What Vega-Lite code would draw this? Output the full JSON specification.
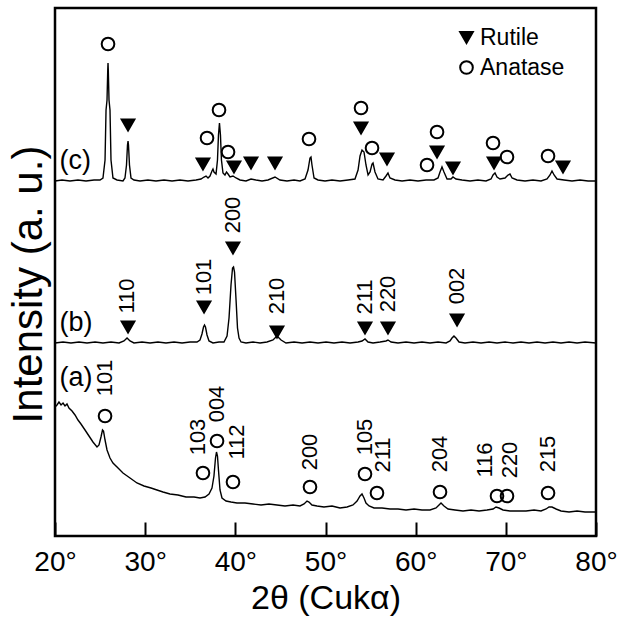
{
  "$schema": "https://vega.github.io/schema/vega-lite/v6.json",
  "width": 541,
  "height": 528,
  "autosize": {"type": "none"},
  "padding": {"left": 55, "top": 8, "right": 22, "bottom": 83},
  "background": "white",
  "config": {
    "view": {"stroke": "black", "strokeWidth": 2.5},
    "font": "Liberation Sans"
  },
  "datasets": {
    "curves": [
      {"sample":"c","t":20.00,"i":355},{"sample":"c","t":20.78,"i":356},{"sample":"c","t":21.66,"i":355},{"sample":"c","t":22.55,"i":356},{"sample":"c","t":23.44,"i":355},{"sample":"c","t":24.33,"i":356},{"sample":"c","t":24.99,"i":356},{"sample":"c","t":25.32,"i":358},{"sample":"c","t":25.55,"i":376},{"sample":"c","t":25.66,"i":426},{"sample":"c","t":25.77,"i":436},{"sample":"c","t":25.85,"i":466},{"sample":"c","t":25.88,"i":473},{"sample":"c","t":25.91,"i":466},{"sample":"c","t":25.99,"i":436},{"sample":"c","t":26.10,"i":426},{"sample":"c","t":26.21,"i":376},{"sample":"c","t":26.43,"i":358},{"sample":"c","t":26.88,"i":356},{"sample":"c","t":27.54,"i":355},{"sample":"c","t":27.76,"i":358},{"sample":"c","t":27.93,"i":371},{"sample":"c","t":28.04,"i":391},{"sample":"c","t":28.10,"i":395},{"sample":"c","t":28.15,"i":391},{"sample":"c","t":28.26,"i":371},{"sample":"c","t":28.43,"i":358},{"sample":"c","t":28.76,"i":356},{"sample":"c","t":29.43,"i":355},{"sample":"c","t":30.31,"i":356},{"sample":"c","t":31.20,"i":355},{"sample":"c","t":32.09,"i":356},{"sample":"c","t":32.98,"i":355},{"sample":"c","t":33.86,"i":356},{"sample":"c","t":34.75,"i":355},{"sample":"c","t":35.64,"i":356},{"sample":"c","t":36.19,"i":357},{"sample":"c","t":36.53,"i":359},{"sample":"c","t":36.75,"i":360},{"sample":"c","t":36.97,"i":358},{"sample":"c","t":37.19,"i":360},{"sample":"c","t":37.41,"i":365},{"sample":"c","t":37.52,"i":367},{"sample":"c","t":37.63,"i":364},{"sample":"c","t":37.86,"i":362},{"sample":"c","t":38.02,"i":376},{"sample":"c","t":38.13,"i":401},{"sample":"c","t":38.24,"i":413},{"sample":"c","t":38.35,"i":401},{"sample":"c","t":38.46,"i":376},{"sample":"c","t":38.63,"i":363},{"sample":"c","t":38.85,"i":361},{"sample":"c","t":39.02,"i":364},{"sample":"c","t":39.19,"i":362},{"sample":"c","t":39.41,"i":359},{"sample":"c","t":39.74,"i":360},{"sample":"c","t":40.08,"i":358},{"sample":"c","t":40.52,"i":356},{"sample":"c","t":41.18,"i":355},{"sample":"c","t":41.74,"i":357},{"sample":"c","t":42.29,"i":356},{"sample":"c","t":42.96,"i":355},{"sample":"c","t":43.62,"i":356},{"sample":"c","t":44.40,"i":359},{"sample":"c","t":44.95,"i":356},{"sample":"c","t":45.73,"i":355},{"sample":"c","t":46.51,"i":356},{"sample":"c","t":47.17,"i":355},{"sample":"c","t":47.73,"i":357},{"sample":"c","t":48.06,"i":366},{"sample":"c","t":48.28,"i":378},{"sample":"c","t":48.39,"i":379},{"sample":"c","t":48.50,"i":371},{"sample":"c","t":48.73,"i":358},{"sample":"c","t":49.17,"i":356},{"sample":"c","t":49.95,"i":355},{"sample":"c","t":50.72,"i":356},{"sample":"c","t":51.61,"i":355},{"sample":"c","t":52.50,"i":356},{"sample":"c","t":53.27,"i":357},{"sample":"c","t":53.61,"i":366},{"sample":"c","t":53.83,"i":380},{"sample":"c","t":54.05,"i":386},{"sample":"c","t":54.27,"i":384},{"sample":"c","t":54.49,"i":371},{"sample":"c","t":54.72,"i":361},{"sample":"c","t":54.94,"i":364},{"sample":"c","t":55.16,"i":372},{"sample":"c","t":55.27,"i":373},{"sample":"c","t":55.49,"i":364},{"sample":"c","t":55.82,"i":357},{"sample":"c","t":56.38,"i":356},{"sample":"c","t":56.71,"i":360},{"sample":"c","t":56.93,"i":363},{"sample":"c","t":57.15,"i":358},{"sample":"c","t":57.71,"i":356},{"sample":"c","t":58.49,"i":355},{"sample":"c","t":59.37,"i":356},{"sample":"c","t":60.26,"i":355},{"sample":"c","t":61.15,"i":356},{"sample":"c","t":62.03,"i":356},{"sample":"c","t":62.48,"i":358},{"sample":"c","t":62.70,"i":364},{"sample":"c","t":62.92,"i":369},{"sample":"c","t":63.14,"i":364},{"sample":"c","t":63.48,"i":357},{"sample":"c","t":63.92,"i":357},{"sample":"c","t":64.14,"i":359},{"sample":"c","t":64.47,"i":357},{"sample":"c","t":65.14,"i":356},{"sample":"c","t":66.03,"i":355},{"sample":"c","t":66.91,"i":356},{"sample":"c","t":67.80,"i":355},{"sample":"c","t":68.36,"i":357},{"sample":"c","t":68.58,"i":361},{"sample":"c","t":68.80,"i":363},{"sample":"c","t":69.02,"i":359},{"sample":"c","t":69.35,"i":357},{"sample":"c","t":69.91,"i":358},{"sample":"c","t":70.24,"i":361},{"sample":"c","t":70.46,"i":362},{"sample":"c","t":70.69,"i":358},{"sample":"c","t":71.24,"i":356},{"sample":"c","t":72.13,"i":355},{"sample":"c","t":73.01,"i":356},{"sample":"c","t":73.90,"i":355},{"sample":"c","t":74.57,"i":357},{"sample":"c","t":74.90,"i":361},{"sample":"c","t":75.12,"i":365},{"sample":"c","t":75.35,"i":361},{"sample":"c","t":75.68,"i":357},{"sample":"c","t":76.45,"i":356},{"sample":"c","t":77.34,"i":355},{"sample":"c","t":78.23,"i":356},{"sample":"c","t":79.12,"i":355},{"sample":"c","t":80.00,"i":355},
      {"sample":"b","t":20.00,"i":193},{"sample":"b","t":20.89,"i":194},{"sample":"b","t":21.77,"i":193},{"sample":"b","t":22.66,"i":194},{"sample":"b","t":23.55,"i":193},{"sample":"b","t":24.44,"i":194},{"sample":"b","t":25.32,"i":193},{"sample":"b","t":26.21,"i":194},{"sample":"b","t":27.10,"i":193},{"sample":"b","t":27.65,"i":195},{"sample":"b","t":27.99,"i":198},{"sample":"b","t":28.32,"i":195},{"sample":"b","t":28.76,"i":193},{"sample":"b","t":29.65,"i":194},{"sample":"b","t":30.54,"i":193},{"sample":"b","t":31.42,"i":194},{"sample":"b","t":32.31,"i":193},{"sample":"b","t":33.20,"i":194},{"sample":"b","t":34.09,"i":193},{"sample":"b","t":34.97,"i":194},{"sample":"b","t":35.75,"i":194},{"sample":"b","t":36.08,"i":196},{"sample":"b","t":36.30,"i":202},{"sample":"b","t":36.47,"i":209},{"sample":"b","t":36.58,"i":211},{"sample":"b","t":36.69,"i":209},{"sample":"b","t":36.86,"i":201},{"sample":"b","t":37.08,"i":195},{"sample":"b","t":37.52,"i":193},{"sample":"b","t":38.19,"i":194},{"sample":"b","t":38.74,"i":194},{"sample":"b","t":39.08,"i":200},{"sample":"b","t":39.30,"i":218},{"sample":"b","t":39.52,"i":251},{"sample":"b","t":39.69,"i":268},{"sample":"b","t":39.80,"i":269},{"sample":"b","t":39.91,"i":264},{"sample":"b","t":40.08,"i":236},{"sample":"b","t":40.24,"i":208},{"sample":"b","t":40.41,"i":198},{"sample":"b","t":40.63,"i":194},{"sample":"b","t":41.18,"i":193},{"sample":"b","t":41.96,"i":194},{"sample":"b","t":42.74,"i":193},{"sample":"b","t":43.51,"i":194},{"sample":"b","t":44.18,"i":196},{"sample":"b","t":44.62,"i":200},{"sample":"b","t":45.07,"i":196},{"sample":"b","t":45.62,"i":193},{"sample":"b","t":46.51,"i":194},{"sample":"b","t":47.40,"i":193},{"sample":"b","t":48.28,"i":194},{"sample":"b","t":49.17,"i":193},{"sample":"b","t":50.06,"i":194},{"sample":"b","t":50.94,"i":193},{"sample":"b","t":51.83,"i":194},{"sample":"b","t":52.72,"i":193},{"sample":"b","t":53.61,"i":194},{"sample":"b","t":54.05,"i":195},{"sample":"b","t":54.38,"i":197},{"sample":"b","t":54.72,"i":194},{"sample":"b","t":55.27,"i":193},{"sample":"b","t":56.05,"i":194},{"sample":"b","t":56.71,"i":195},{"sample":"b","t":56.93,"i":196},{"sample":"b","t":57.27,"i":194},{"sample":"b","t":58.04,"i":193},{"sample":"b","t":58.93,"i":194},{"sample":"b","t":59.82,"i":193},{"sample":"b","t":60.70,"i":194},{"sample":"b","t":61.59,"i":193},{"sample":"b","t":62.48,"i":194},{"sample":"b","t":63.37,"i":193},{"sample":"b","t":63.81,"i":195},{"sample":"b","t":64.03,"i":198},{"sample":"b","t":64.25,"i":200},{"sample":"b","t":64.47,"i":198},{"sample":"b","t":64.81,"i":194},{"sample":"b","t":65.47,"i":193},{"sample":"b","t":66.36,"i":194},{"sample":"b","t":67.25,"i":193},{"sample":"b","t":68.14,"i":194},{"sample":"b","t":69.02,"i":193},{"sample":"b","t":69.91,"i":194},{"sample":"b","t":70.80,"i":193},{"sample":"b","t":71.68,"i":194},{"sample":"b","t":72.57,"i":193},{"sample":"b","t":73.46,"i":194},{"sample":"b","t":74.35,"i":193},{"sample":"b","t":75.23,"i":194},{"sample":"b","t":76.12,"i":193},{"sample":"b","t":77.01,"i":194},{"sample":"b","t":77.90,"i":193},{"sample":"b","t":78.78,"i":194},{"sample":"b","t":80.00,"i":193},
      {"sample":"a","t":20.00,"i":129},{"sample":"a","t":20.22,"i":131},{"sample":"a","t":20.44,"i":134},{"sample":"a","t":20.67,"i":131},{"sample":"a","t":20.89,"i":133},{"sample":"a","t":21.11,"i":130},{"sample":"a","t":21.33,"i":132},{"sample":"a","t":21.55,"i":128},{"sample":"a","t":21.89,"i":125},{"sample":"a","t":22.22,"i":121},{"sample":"a","t":22.55,"i":116},{"sample":"a","t":22.88,"i":112},{"sample":"a","t":23.33,"i":106},{"sample":"a","t":23.77,"i":100},{"sample":"a","t":24.21,"i":94},{"sample":"a","t":24.66,"i":89},{"sample":"a","t":24.88,"i":91},{"sample":"a","t":25.10,"i":99},{"sample":"a","t":25.27,"i":106},{"sample":"a","t":25.38,"i":105},{"sample":"a","t":25.55,"i":96},{"sample":"a","t":25.77,"i":86},{"sample":"a","t":26.10,"i":78},{"sample":"a","t":26.43,"i":73},{"sample":"a","t":26.99,"i":68},{"sample":"a","t":27.54,"i":63},{"sample":"a","t":28.32,"i":58},{"sample":"a","t":29.09,"i":53},{"sample":"a","t":29.87,"i":50},{"sample":"a","t":30.65,"i":48},{"sample":"a","t":31.31,"i":46},{"sample":"a","t":31.98,"i":44},{"sample":"a","t":32.75,"i":42},{"sample":"a","t":33.64,"i":41},{"sample":"a","t":34.53,"i":39},{"sample":"a","t":35.42,"i":39},{"sample":"a","t":36.08,"i":38},{"sample":"a","t":36.64,"i":39},{"sample":"a","t":37.08,"i":42},{"sample":"a","t":37.41,"i":48},{"sample":"a","t":37.63,"i":60},{"sample":"a","t":37.80,"i":78},{"sample":"a","t":37.91,"i":84},{"sample":"a","t":38.02,"i":80},{"sample":"a","t":38.13,"i":66},{"sample":"a","t":38.30,"i":46},{"sample":"a","t":38.52,"i":38},{"sample":"a","t":38.97,"i":35},{"sample":"a","t":39.52,"i":34},{"sample":"a","t":40.18,"i":33},{"sample":"a","t":41.07,"i":33},{"sample":"a","t":41.96,"i":32},{"sample":"a","t":42.85,"i":31},{"sample":"a","t":43.73,"i":32},{"sample":"a","t":44.62,"i":31},{"sample":"a","t":45.51,"i":30},{"sample":"a","t":46.40,"i":31},{"sample":"a","t":47.17,"i":30},{"sample":"a","t":47.62,"i":32},{"sample":"a","t":47.95,"i":35},{"sample":"a","t":48.17,"i":34},{"sample":"a","t":48.50,"i":31},{"sample":"a","t":49.06,"i":30},{"sample":"a","t":49.83,"i":29},{"sample":"a","t":50.72,"i":30},{"sample":"a","t":51.61,"i":28},{"sample":"a","t":52.39,"i":29},{"sample":"a","t":53.05,"i":31},{"sample":"a","t":53.50,"i":35},{"sample":"a","t":53.83,"i":40},{"sample":"a","t":54.05,"i":42},{"sample":"a","t":54.27,"i":38},{"sample":"a","t":54.49,"i":33},{"sample":"a","t":54.83,"i":30},{"sample":"a","t":55.38,"i":28},{"sample":"a","t":56.27,"i":28},{"sample":"a","t":57.15,"i":27},{"sample":"a","t":58.04,"i":27},{"sample":"a","t":58.93,"i":26},{"sample":"a","t":59.82,"i":27},{"sample":"a","t":60.70,"i":26},{"sample":"a","t":61.59,"i":26},{"sample":"a","t":62.26,"i":28},{"sample":"a","t":62.59,"i":31},{"sample":"a","t":62.81,"i":33},{"sample":"a","t":63.14,"i":30},{"sample":"a","t":63.59,"i":27},{"sample":"a","t":64.36,"i":26},{"sample":"a","t":65.25,"i":25},{"sample":"a","t":66.14,"i":26},{"sample":"a","t":67.03,"i":25},{"sample":"a","t":67.91,"i":26},{"sample":"a","t":68.58,"i":27},{"sample":"a","t":68.91,"i":29},{"sample":"a","t":69.24,"i":28},{"sample":"a","t":69.69,"i":26},{"sample":"a","t":70.46,"i":25},{"sample":"a","t":71.35,"i":25},{"sample":"a","t":72.24,"i":25},{"sample":"a","t":73.13,"i":26},{"sample":"a","t":73.90,"i":25},{"sample":"a","t":74.46,"i":27},{"sample":"a","t":74.79,"i":29},{"sample":"a","t":75.12,"i":29},{"sample":"a","t":75.57,"i":27},{"sample":"a","t":76.12,"i":25},{"sample":"a","t":77.01,"i":24},{"sample":"a","t":77.90,"i":25},{"sample":"a","t":78.78,"i":24},{"sample":"a","t":80.00,"i":24}
    ],
    "markers": [
      {"phase":"Anatase","t":25.88,"i":492},{"phase":"Rutile","t":28.10,"i":411},{"phase":"Anatase","t":36.86,"i":398},{"phase":"Rutile","t":36.41,"i":372},{"phase":"Anatase","t":38.19,"i":426},{"phase":"Anatase","t":39.19,"i":384},{"phase":"Rutile","t":39.85,"i":369},{"phase":"Rutile","t":41.74,"i":373},{"phase":"Rutile","t":44.40,"i":373},{"phase":"Anatase","t":48.17,"i":397},{"phase":"Anatase","t":53.94,"i":428},{"phase":"Rutile","t":53.94,"i":408},{"phase":"Anatase","t":55.16,"i":388},{"phase":"Rutile","t":56.82,"i":377},{"phase":"Anatase","t":62.37,"i":404},{"phase":"Anatase","t":61.26,"i":371},{"phase":"Rutile","t":62.37,"i":384},{"phase":"Rutile","t":64.14,"i":368},{"phase":"Anatase","t":68.58,"i":393},{"phase":"Rutile","t":68.69,"i":373},{"phase":"Anatase","t":70.13,"i":379},{"phase":"Anatase","t":74.68,"i":380},{"phase":"Rutile","t":76.34,"i":369},
      {"phase":"Rutile","t":28.10,"i":209},{"phase":"Rutile","t":36.53,"i":229},{"phase":"Rutile","t":39.74,"i":288},{"phase":"Rutile","t":44.62,"i":204},{"phase":"Rutile","t":54.38,"i":208},{"phase":"Rutile","t":56.93,"i":208},{"phase":"Rutile","t":64.59,"i":216},
      {"phase":"Anatase","t":25.55,"i":120},{"phase":"Anatase","t":36.41,"i":63},{"phase":"Anatase","t":37.97,"i":95},{"phase":"Anatase","t":39.74,"i":54},{"phase":"Anatase","t":48.28,"i":49},{"phase":"Anatase","t":54.38,"i":62},{"phase":"Anatase","t":55.71,"i":43},{"phase":"Anatase","t":62.70,"i":44},{"phase":"Anatase","t":69.02,"i":40},{"phase":"Anatase","t":70.13,"i":40},{"phase":"Anatase","t":74.68,"i":43}
    ],
    "hkl": [
      {"label":"110","t":27.99,"i":240},{"label":"101","t":36.53,"i":259},{"label":"200","t":39.74,"i":321},{"label":"210","t":44.62,"i":240},{"label":"211","t":54.38,"i":239},{"label":"220","t":56.93,"i":242},{"label":"002","t":64.59,"i":250},
      {"label":"101","t":25.55,"i":158},{"label":"103","t":35.86,"i":99},{"label":"004","t":37.97,"i":132},{"label":"112","t":40.19,"i":94},{"label":"200","t":48.28,"i":84},{"label":"105","t":54.38,"i":99},{"label":"211","t":56.38,"i":81},{"label":"204","t":62.70,"i":82},{"label":"116","t":67.69,"i":76},{"label":"220","t":70.46,"i":76},{"label":"215","t":74.68,"i":82}
    ],
    "samples": [
      {"label":"(c)","t":20.5,"i":375},{"label":"(b)","t":20.5,"i":213},{"label":"(a)","t":20.5,"i":158}
    ]
  },
  "encoding": {
    "x": {
      "field": "t", "type": "quantitative",
      "scale": {"domain": [20, 80], "nice": false, "zero": false},
      "axis": {
        "values": [20, 30, 40, 50, 60, 70, 80],
        "labelExpr": "datum.value + '°'",
        "labelFontSize": 28, "labelColor": "black", "labelPadding": 26,
        "labelAlign": "center", "labelDx": 5,
        "labelFlush": false, "labelOverlap": false,
        "tickSize": -14, "tickWidth": 2, "tickColor": "black",
        "domain": false, "grid": false,
        "title": "2θ (Cukα)", "titleFontSize": 34, "titleFontWeight": "normal",
        "titleColor": "black", "titlePadding": 5
      }
    },
    "y": {
      "field": "i", "type": "quantitative",
      "scale": {"domain": [0, 528], "nice": false, "zero": false},
      "axis": {
        "ticks": false, "labels": false, "domain": false, "grid": false,
        "title": "Intensity (a. u.)", "titleFontSize": 42, "titleFontWeight": "normal",
        "titleColor": "black", "titlePadding": 5, "titleY": 276
      }
    }
  },
  "layer": [
    {
      "data": {"name": "curves"},
      "mark": {"type": "line", "color": "black", "strokeWidth": 1.4},
      "encoding": {"detail": {"field": "sample", "type": "nominal"}}
    },
    {
      "data": {"name": "markers"},
      "mark": {"type": "point", "strokeWidth": 2, "opacity": 1, "size": 160},
      "encoding": {
        "shape": {
          "field": "phase", "type": "nominal",
          "scale": {"domain": ["Rutile", "Anatase"], "range": ["triangle-down", "circle"]},
          "legend": {
            "orient": "none", "legendX": 400, "legendY": 18, "title": null,
            "labelFontSize": 23, "labelColor": "black", "labelOffset": 2,
            "rowPadding": 6, "padding": 0, "symbolSize": 160, "symbolStrokeWidth": 2
          }
        },
        "fill": {
          "field": "phase", "type": "nominal",
          "scale": {"domain": ["Rutile", "Anatase"], "range": ["black", "transparent"]},
          "legend": {
            "orient": "none", "legendX": 400, "legendY": 18, "title": null,
            "labelFontSize": 23, "labelColor": "black", "labelOffset": 2,
            "rowPadding": 6, "padding": 0, "symbolSize": 160, "symbolStrokeWidth": 2
          }
        },
        "stroke": {
          "field": "phase", "type": "nominal",
          "scale": {"domain": ["Rutile", "Anatase"], "range": ["black", "black"]},
          "legend": {
            "orient": "none", "legendX": 400, "legendY": 18, "title": null,
            "labelFontSize": 23, "labelColor": "black", "labelOffset": 2,
            "rowPadding": 6, "padding": 0, "symbolSize": 160, "symbolStrokeWidth": 2
          }
        }
      }
    },
    {
      "data": {"name": "hkl"},
      "mark": {"type": "text", "angle": 270, "align": "center", "baseline": "middle", "fontSize": 22, "color": "black"},
      "encoding": {"text": {"field": "label", "type": "nominal"}}
    },
    {
      "data": {"name": "samples"},
      "mark": {"type": "text", "align": "left", "baseline": "middle", "fontSize": 27, "color": "black"},
      "encoding": {"text": {"field": "label", "type": "nominal"}}
    }
  ]
}
